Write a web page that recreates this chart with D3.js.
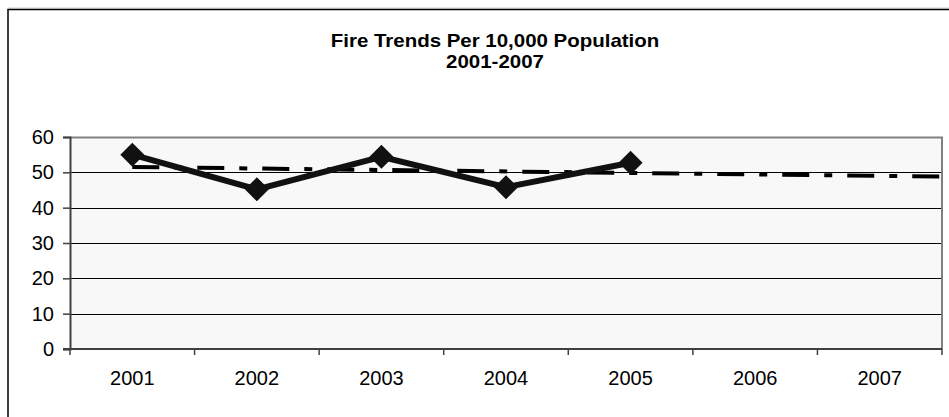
<!DOCTYPE html>
<html>
<head>
<meta charset="utf-8">
<script src="https://cdn.jsdelivr.net/npm/d3@7"></script>
<style>
  body { margin: 0; background: #fff; }
  svg { display: block; font-family: "Liberation Sans", Arial, sans-serif; }
</style>
</head>
<body>
<svg id="chart" width="949" height="417"></svg>
<script>
// data
var years = ["2001", "2002", "2003", "2004", "2005", "2006", "2007"];
var fires = [55.0, 45.2, 54.4, 45.8, 52.7];        // 2001..2005
var trendYears = ["2001", "end"];                   // trend runs from 2001 to the right edge
var trendValues = [51.5, 48.8];
var yTicks = [0, 10, 20, 30, 40, 50, 60];
var titleLines = ["Fire Trends Per 10,000 Population", "2001-2007"];

var width = 949, height = 417;
var plot = { left: 70, top: 137, right: 942, bottom: 349 };

var svg = d3.select("#chart");

// outer chart frame
svg.append("line").attr("x1", 8).attr("x2", width).attr("y1", 8).attr("y2", 8)
  .attr("stroke", "#d0d0d0").attr("stroke-width", 1);
svg.append("path")
  .attr("d", "M8," + (height + 2) + "V9.5H" + (width + 2))
  .attr("fill", "none").attr("stroke", "#000").attr("stroke-width", 1.5);

// title (the original is slightly stretched sideways)
svg.append("text")
  .attr("transform", "translate(495,0) scale(1.1,1)")
  .attr("text-anchor", "middle")
  .style("font-weight", "bold").style("font-size", "18.6px")
  .selectAll("tspan").data(titleLines).enter().append("tspan")
  .attr("x", 0).attr("y", (d, i) => i == 0 ? 47 : 68.5)
  .text(d => d);

var x = d3.scaleBand().domain(years).range([plot.left, plot.right]);
var y = d3.scaleLinear().domain([0, 60]).range([plot.bottom, plot.top]);
var xc = d => x(d) + x.bandwidth() / 2;

// plot background
svg.append("rect")
  .attr("x", plot.left).attr("y", plot.top)
  .attr("width", plot.right - plot.left).attr("height", plot.bottom - plot.top)
  .attr("fill", "#f8f8f8");

// gridlines
svg.append("g").selectAll("line").data(yTicks.filter(d => d > 0 && d < 60)).enter().append("line")
  .attr("x1", plot.left).attr("x2", plot.right)
  .attr("y1", d => Math.round(y(d)) + 0.5).attr("y2", d => Math.round(y(d)) + 0.5)
  .attr("stroke", "#000").attr("stroke-width", 1);

// plot top / right border
svg.append("path")
  .attr("d", "M" + plot.left + "," + (plot.top + 0.5) + "H" + plot.right + "V" + plot.bottom)
  .attr("fill", "none").attr("stroke", "#808080").attr("stroke-width", 2);

// y axis
var yAxis = svg.append("g")
  .attr("transform", "translate(" + plot.left + ",0)")
  .call(d3.axisLeft(y).tickValues(yTicks).tickSize(7).tickPadding(9));
yAxis.select(".domain").attr("stroke", "#404040").attr("stroke-width", 2);
yAxis.selectAll(".tick line").attr("stroke", "#404040").attr("stroke-width", 1.5);
yAxis.selectAll("text").style("font-size", "20px").attr("fill", "#000")
  .attr("font-family", null);

// x axis: ticks at band edges, labels at centres
var xAxis = svg.append("g").attr("transform", "translate(0," + plot.bottom + ")");
xAxis.append("line")
  .attr("x1", plot.left - 7).attr("x2", plot.right)
  .attr("stroke", "#404040").attr("stroke-width", 2);
var edges = years.map(d => x(d)).concat([plot.right]);
xAxis.selectAll(".edge").data(edges).enter().append("line")
  .attr("class", "edge")
  .attr("x1", d => d).attr("x2", d => d)
  .attr("y1", 0).attr("y2", 6)
  .attr("stroke", "#404040").attr("stroke-width", 1.5);
xAxis.selectAll(".lbl").data(years).enter().append("text")
  .attr("class", "lbl")
  .attr("x", xc).attr("y", 36)
  .attr("text-anchor", "middle")
  .style("font-size", "20px")
  .text(d => d);

// trend line (dash-dot)
var trendX = d => d == "end" ? plot.right : xc(d);
svg.append("path")
  .datum(trendYears.map((d, i) => [trendX(d), y(trendValues[i])]))
  .attr("d", d3.line())
  .attr("fill", "none").attr("stroke", "#000")
  .attr("stroke-width", 4)
  .attr("stroke-dasharray", "27,15,8,15");

// main series
var pts = fires.map((v, i) => [xc(years[i]), y(v)]);
svg.append("path")
  .datum(pts)
  .attr("d", d3.line())
  .attr("fill", "none").attr("stroke", "#111")
  .attr("stroke-width", 6).attr("stroke-linejoin", "miter");

svg.append("g").selectAll("path").data(pts).enter().append("path")
  .attr("transform", d => "translate(" + d[0] + "," + d[1] + ")")
  .attr("d", "M0,-12L12,0L0,12L-12,0Z")
  .attr("fill", "#111");
</script>
</body>
</html>
